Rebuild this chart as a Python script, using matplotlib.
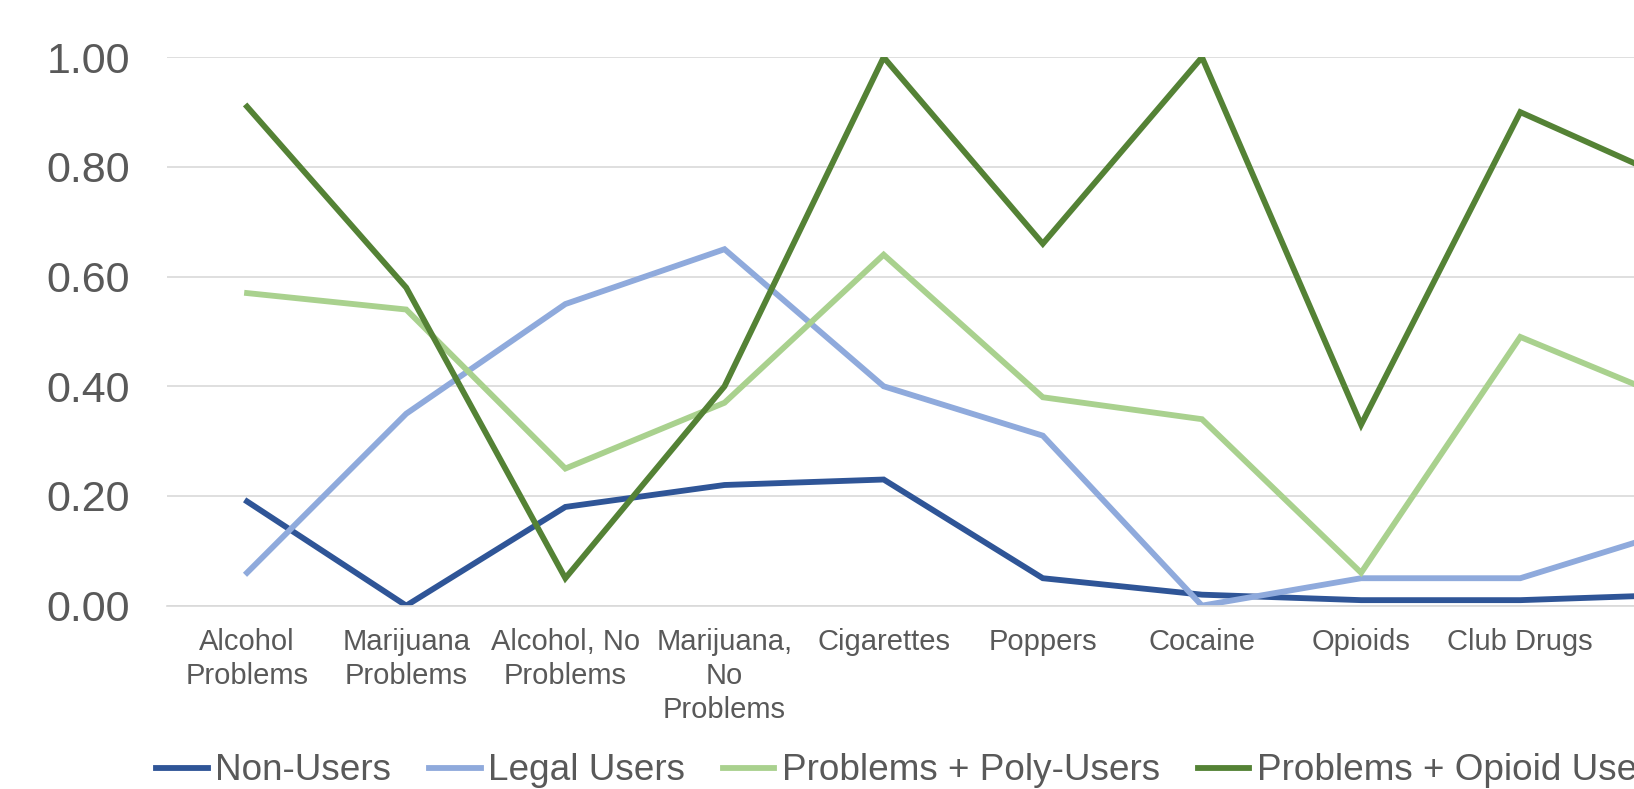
import numpy as np
import matplotlib.pyplot as plt

plt.rcParams['font.family'] = ['Liberation Sans', 'DejaVu Sans']

# Data (the last category is cut off at the right edge)
categories = ['Alcohol\nProblems', 'Marijuana\nProblems', 'Alcohol, No\nProblems',
              'Marijuana,\nNo\nProblems', 'Cigarettes', 'Poppers', 'Cocaine',
              'Opioids', 'Club Drugs', '']
non_users = [0.19, 0.00, 0.18, 0.22, 0.23, 0.05, 0.02, 0.01, 0.01, 0.02]
legal_users = [0.06, 0.35, 0.55, 0.65, 0.40, 0.31, 0.00, 0.05, 0.05, 0.14]
poly_users = [0.57, 0.54, 0.25, 0.37, 0.64, 0.38, 0.34, 0.06, 0.49, 0.37]
opioid_users = [0.91, 0.58, 0.05, 0.40, 1.00, 0.66, 1.00, 0.33, 0.90, 0.77]

series = [
    ('Non-Users', non_users, '#2F5597'),
    ('Legal Users', legal_users, '#8FAADC'),
    ('Problems + Poly-Users', poly_users, '#A9D18E'),
    ('Problems + Opioid Users', opioid_users, '#548235'),
]

fig = plt.figure(figsize=(16.34, 7.89), dpi=100)
# axes run past the right edge of the figure, like the cropped original
ax = fig.add_axes([0.1025, 0.2324, 0.974, 0.695])

x = np.arange(len(categories))
for name, vals, col in series:
    ax.plot(x, vals, color=col, linewidth=4.2, label=name, solid_joinstyle='miter')

ax.set_xlim(-0.5, len(categories) - 0.5)
ax.set_ylim(0, 1.0)
ax.set_yticks(np.arange(0, 1.01, 0.2))
ax.set_yticklabels(['{:.2f}'.format(v) for v in np.arange(0, 1.01, 0.2)])
ax.set_xticks(x)
ax.set_xticklabels(categories, linespacing=1.27)

ax.grid(axis='y', color='#D9D9D9', linewidth=1.2)
ax.set_axisbelow(True)
for s in ['top', 'right', 'left']:
    ax.spines[s].set_visible(False)
ax.spines['bottom'].set_color('#D9D9D9')
ax.spines['bottom'].set_linewidth(1.2)

ax.tick_params(axis='y', length=0, pad=27, labelsize=31, labelcolor='#595959')
ax.tick_params(axis='x', length=0, pad=16, labelsize=21, labelcolor='#595959')

fig.legend(loc='center left', bbox_to_anchor=(156 / 1634, 1 - 771 / 789),
           ncol=4, frameon=False, fontsize=26.6, handlelength=1.4,
           handletextpad=0.2, columnspacing=1.02, borderpad=0, borderaxespad=0,
           labelcolor='#595959')

fig.savefig('out.png', dpi=100)
